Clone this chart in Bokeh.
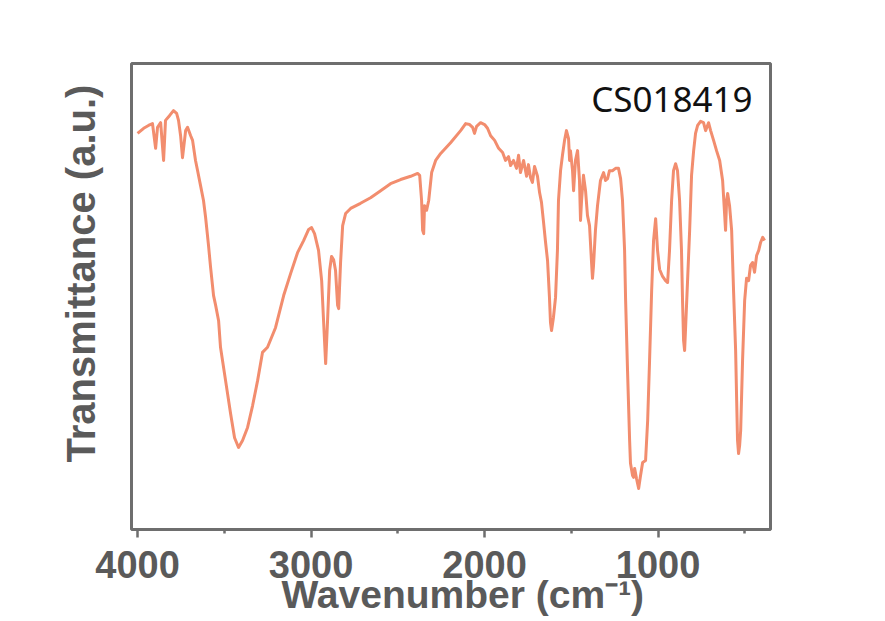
import numpy as np
from bokeh.plotting import figure
from bokeh.models import Range1d, FixedTicker, Label, Title
from bokeh.embed import file_html
from bokeh.resources import INLINE

# IR spectrum (wavenumber in cm^-1, transmittance in a.u.)
wavenumber = [4000, 3965, 3937, 3914, 3896, 3885, 3867, 3850, 3839, 3816, 3793, 3775, 3764, 3752,
              3741, 3723, 3712, 3694, 3683, 3666, 3654, 3637, 3620, 3608, 3591, 3579, 3562, 3550,
              3533, 3522, 3493, 3464, 3441, 3418, 3395, 3366, 3337, 3308, 3280, 3251, 3205, 3158,
              3118, 3078, 3043, 3014, 2997, 2980, 2957, 2939, 2928, 2916, 2905, 2893, 2882, 2870,
              2859, 2847, 2841, 2830, 2818, 2801, 2772, 2715, 2657, 2599, 2542, 2484, 2426, 2386,
              2374, 2363, 2357, 2351, 2346, 2334, 2322, 2305, 2282, 2253, 2196, 2138, 2109, 2086,
              2069, 2058, 2046, 2023, 2000, 1983, 1965, 1942, 1919, 1896, 1879, 1862, 1850, 1833,
              1816, 1804, 1793, 1775, 1758, 1747, 1735, 1724, 1712, 1695, 1683, 1672, 1660, 1649,
              1637, 1626, 1620, 1614, 1603, 1591, 1580, 1574, 1562, 1551, 1539, 1528, 1516, 1510,
              1505, 1493, 1487, 1476, 1464, 1453, 1447, 1441, 1430, 1418, 1407, 1395, 1384, 1378,
              1372, 1361, 1349, 1332, 1314, 1303, 1291, 1280, 1263, 1245, 1228, 1216, 1205, 1193,
              1187, 1176, 1164, 1159, 1147, 1141, 1135, 1124, 1112, 1101, 1089, 1072, 1060, 1049,
              1037, 1026, 1014, 1003, 991, 974, 957, 945, 934, 922, 911, 899, 888, 876, 865, 859,
              853, 847, 842, 830, 818, 807, 795, 784, 772, 755, 738, 726, 715, 709, 697, 680, 663,
              645, 628, 616, 611, 605, 599, 588, 576, 565, 553, 547, 542, 536, 530, 524, 513, 501,
              490, 478, 467, 455, 444, 432, 420, 409, 397, 386]
transmittance = [85.0, 86.1, 86.7, 87.1, 81.8, 86.3, 87.3, 79.2, 87.8, 88.8, 89.9, 89.3, 87.8, 84.5,
                 79.8, 85.6, 86.3, 84.5, 83.5, 79.2, 77.0, 73.8, 70.6, 67.0, 60.9, 56.2, 50.2, 48.1,
                 44.8, 39.1, 32.0, 24.9, 19.7, 17.6, 19.1, 21.9, 26.6, 32.0, 38.0, 39.1, 43.3, 50.2,
                 54.9, 59.4, 62.0, 64.4, 64.8, 63.5, 59.9, 53.4, 44.8, 35.6, 44.8, 55.6, 58.6, 57.9,
                 55.6, 48.1, 47.4, 57.3, 65.2, 67.8, 68.9, 70.0, 71.2, 72.7, 74.2, 75.1, 75.8, 76.4,
                 76.0, 70.6, 64.2, 63.5, 69.5, 68.5, 70.6, 76.6, 79.2, 80.7, 83.0, 85.6, 87.1, 86.9,
                 86.3, 85.0, 86.5, 87.3, 86.9, 86.1, 84.5, 83.5, 81.8, 80.9, 79.2, 80.0, 78.1, 79.2,
                 77.5, 80.3, 76.6, 79.2, 75.8, 78.3, 75.5, 74.5, 77.9, 75.8, 72.3, 70.2, 65.9, 61.8,
                 57.7, 49.8, 44.4, 42.7, 45.5, 49.8, 59.9, 70.6, 77.0, 80.3, 83.5, 85.6, 83.9, 79.2,
                 81.3, 77.0, 72.7, 79.2, 81.3, 74.9, 66.3, 70.6, 76.0, 72.7, 67.4, 65.2, 57.7, 53.9,
                 56.7, 64.2, 69.5, 74.9, 76.6, 74.9, 75.3, 77.0, 77.0, 77.5, 77.5, 75.3, 70.6, 59.9,
                 49.1, 34.1, 19.1, 14.2, 11.6, 11.2, 13.1, 10.9, 8.8, 11.6, 14.4, 14.8, 23.4, 36.3,
                 51.3, 62.0, 66.7, 59.9, 55.8, 54.3, 53.4, 53.0, 59.9, 70.6, 77.0, 78.5, 77.0, 70.6,
                 59.9, 49.1, 40.6, 38.4, 42.7, 53.4, 64.2, 76.0, 81.3, 85.0, 86.7, 87.6, 87.3, 85.6,
                 86.7, 87.3, 85.6, 83.5, 81.3, 79.2, 74.9, 67.4, 64.2, 70.6, 72.1, 69.5, 64.2, 51.3,
                 38.4, 27.7, 19.1, 16.3, 18.0, 21.2, 36.3, 49.1, 53.9, 53.4, 56.7, 57.3, 55.2, 58.8,
                 59.9, 61.6, 62.7, 62.0]

x_major_ticks = [4000, 3000, 2000, 1000]
x_minor_ticks = [3500, 2500, 1500, 500]
sample_id = "CS018419"
x_label = "Wavenumber (cm\u207b\u00b9)"
y_label = "Transmittance (a.u.)"

AXIS_GREY = "#5a5a5a"
FRAME_GREY = "#6e6e6e"
LINE_COLOR = "#F28D6E"

p = figure(width=877, height=621, output_backend="svg", toolbar_location=None,
           x_range=Range1d(4035, 352), y_range=Range1d(0, 100),
           min_border_left=131, min_border_right=107, min_border_top=63, min_border_bottom=92,
           background_fill_color="white", border_fill_color="white")

p.line(wavenumber, transmittance, line_color=LINE_COLOR, line_width=3, line_join="round")

p.xgrid.visible = False
p.ygrid.visible = False
p.outline_line_color = FRAME_GREY
p.outline_line_width = 3

# x axis
xa = p.xaxis[0]
xa.ticker = FixedTicker(ticks=x_major_ticks, minor_ticks=x_minor_ticks)
xa.axis_line_color = None
xa.major_tick_line_color = FRAME_GREY
xa.major_tick_line_width = 2.5
xa.major_tick_in = 0
xa.major_tick_out = 8
xa.minor_tick_line_color = FRAME_GREY
xa.minor_tick_line_width = 2.5
xa.minor_tick_in = 0
xa.minor_tick_out = 4
xa.major_label_text_font = "Liberation Sans"
xa.major_label_text_font_style = "bold"
xa.major_label_text_font_size = "38px"
xa.major_label_text_color = AXIS_GREY
xa.major_label_standoff = 13

# y axis (no ticks)
ya = p.yaxis[0]
ya.ticker = FixedTicker(ticks=[])
ya.axis_line_color = None
ya.major_tick_line_color = None
ya.minor_tick_line_color = None
ya.major_tick_out = 0
ya.minor_tick_out = 0
ya.major_label_standoff = 0
ya.major_label_text_font_size = "0px"

# axis titles (slightly off-centre as in the reference)
p.add_layout(Title(text=x_label, align="left", offset=150, standoff=-20,
                   text_font="Liberation Sans", text_font_style="bold",
                   text_font_size="39px", text_color=AXIS_GREY), "below")
p.add_layout(Title(text=y_label, align="left", offset=67, standoff=58,
                   text_font="Liberation Sans", text_font_style="bold",
                   text_font_size="40px", text_color=AXIS_GREY), "left")

p.add_layout(Label(x=455, y=92.5, text=sample_id, text_align="right",
                   text_baseline="alphabetic", text_font="Noto Sans",
                   text_font_size="35px", text_color="#111111"))

open("out.html", "w").write(file_html(p, INLINE))
